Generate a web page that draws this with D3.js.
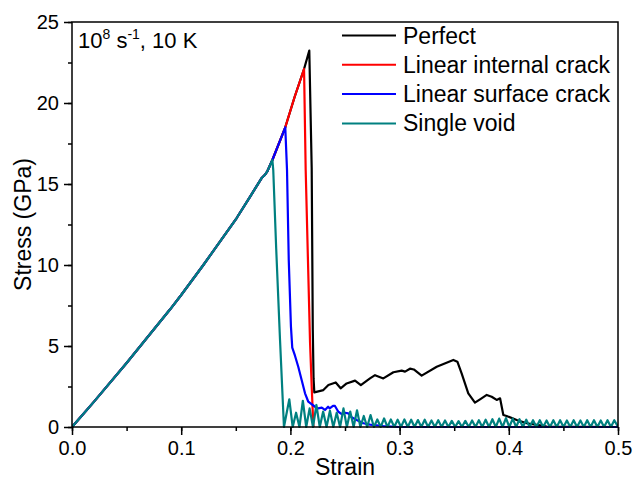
<!DOCTYPE html>
<html>
<head>
<meta charset="utf-8">
<script src="https://cdn.jsdelivr.net/npm/d3@7"></script>
<style>
  body { margin: 0; background: #fff; }
  svg { font-family: "Liberation Sans", Arial, sans-serif; }
</style>
</head>
<body>
<div id="chart1"></div>
<script>
// data: [strain, stress in GPa]
var elastic = [
    [0, 0], [0.02, 1.55], [0.05, 3.95], [0.0897, 7.25], [0.1, 8.15], [0.1203, 10.0],
    [0.1508, 12.9], [0.163, 14.2], [0.1735, 15.35], [0.1765, 15.55], [0.179, 15.8], [0.1835, 16.48]
];
var perfectTail = [
    [0.1953, 18.5], [0.204, 20.4], [0.2125, 22.1], [0.2173, 23.23], [0.2195, 16.0], [0.2205, 6.0],
    [0.2212, 3.0], [0.2219, 2.14], [0.2302, 2.28], [0.2348, 2.59], [0.2415, 2.75], [0.246, 2.39],
    [0.2515, 2.69], [0.2592, 2.86], [0.2645, 2.59], [0.2729, 3.0], [0.2775, 3.2], [0.2851, 3.0],
    [0.2943, 3.38], [0.3019, 3.48], [0.305, 3.42], [0.3095, 3.6], [0.313, 3.55], [0.3202, 3.17],
    [0.334, 3.72], [0.3492, 4.14], [0.3529, 4.03], [0.3568, 3.31], [0.3629, 2.08], [0.369, 1.5],
    [0.374, 1.72], [0.3798, 1.98], [0.3843, 1.87], [0.3889, 1.67], [0.392, 1.77], [0.395, 0.74],
    [0.398, 0.68], [0.4072, 0.43], [0.4164, 0.23], [0.4286, 0.1], [0.4347, 0.02], [0.5, 0]
];
var internalTail = [
    [0.1953, 18.5], [0.204, 20.4], [0.2125, 22.1], [0.214, 15.86], [0.216, 10.5], [0.218, 5.2],
    [0.2195, 2.5], [0.221, 0.1], [0.2215, 0]
];
var surfaceTail = [
    [0.1953, 18.5], [0.1969, 15.86], [0.1985, 10.3], [0.2005, 6.2], [0.2017, 4.9], [0.2042, 4.4],
    [0.2072, 3.72], [0.2103, 2.9], [0.2134, 2.08], [0.2164, 1.56], [0.2225, 1.25], [0.2255, 1.15],
    [0.2287, 1.2], [0.2317, 1.05], [0.2345, 1.25], [0.236, 1.15], [0.239, 1.3], [0.2408, 1.3],
    [0.2439, 0.94], [0.247, 0.8], [0.25, 0.88], [0.253, 0.84], [0.256, 0.6], [0.2607, 0.43],
    [0.2668, 0.23], [0.273, 0.15], [0.285, 0.06], [0.3, 0], [0.5, 0]
];
var voidTail = [
    [0.1843, 15.86], [0.187, 11], [0.1905, 5.37], [0.1941, 0],
    [0.199, 1.71], [0.2021, 0], [0.2052, 0.88], [0.2083, 0], [0.2114, 1.62], [0.2145, 0],
    [0.2176, 1.15], [0.2207, 0], [0.2238, 1.36], [0.2269, 0], [0.23, 0.95], [0.2331, 0],
    [0.2362, 1.0], [0.2393, 0], [0.2424, 0.88], [0.2455, 0], [0.2486, 1.15], [0.2517, 0],
    [0.2548, 0.95], [0.2579, 0], [0.261, 1.03], [0.2641, 0], [0.2672, 0.68], [0.2703, 0],
    [0.2734, 0.74], [0.2765, 0], [0.2796, 0.47], [0.2827, 0], [0.2858, 0.53], [0.2889, 0],
    [0.292, 0.47], [0.2951, 0], [0.2982, 0.45], [0.3013, 0], [0.3044, 0.47], [0.3075, 0],
    [0.3106, 0.45], [0.3137, 0], [0.3168, 0.43], [0.3199, 0], [0.323, 0.45], [0.3261, 0],
    [0.3292, 0.4], [0.3323, 0], [0.3354, 0.42], [0.3385, 0], [0.3416, 0.4], [0.3447, 0],
    [0.3478, 0.38], [0.3509, 0], [0.354, 0.36], [0.3571, 0], [0.3602, 0.38], [0.3633, 0],
    [0.3664, 0.4], [0.3695, 0], [0.3726, 0.42], [0.3757, 0], [0.3788, 0.45], [0.3819, 0],
    [0.385, 0.48], [0.3881, 0], [0.3912, 0.52], [0.3943, 0], [0.3974, 0.55], [0.4005, 0],
    [0.4036, 0.52], [0.4067, 0], [0.4098, 0.48], [0.4129, 0], [0.416, 0.45], [0.4191, 0],
    [0.4222, 0.42], [0.4253, 0], [0.4284, 0.42], [0.4315, 0], [0.4346, 0.4], [0.4377, 0],
    [0.4408, 0.42], [0.4439, 0], [0.447, 0.42], [0.4501, 0], [0.4532, 0.4], [0.4563, 0],
    [0.4594, 0.42], [0.4625, 0], [0.4656, 0.4], [0.4687, 0], [0.4718, 0.42], [0.4749, 0],
    [0.478, 0.42], [0.4811, 0], [0.4842, 0.4], [0.4873, 0], [0.4904, 0.42], [0.4935, 0],
    [0.4966, 0.42], [0.4997, 0.05]
];
var seriesNames = ["Perfect", "Linear internal crack", "Linear surface crack", "Single void"];
var seriesColors = ["#000000", "#ff0000", "#0000ff", "#008080"];
var xTicks = [0, 0.1, 0.2, 0.3, 0.4, 0.5];
var yTicks = [0, 5, 10, 15, 20, 25];

var series = [
    {name: seriesNames[0], color: seriesColors[0], values: elastic.concat(perfectTail)},
    {name: seriesNames[1], color: seriesColors[1], values: elastic.concat(internalTail)},
    {name: seriesNames[2], color: seriesColors[2], values: elastic.concat(surfaceTail)},
    {name: seriesNames[3], color: seriesColors[3], values: elastic.concat(voidTail)}
];

var W = 634, H = 483;
var margin = {top: 22, right: 16, bottom: 56, left: 72};
var width = W - margin.left - margin.right,
    height = H - margin.top - margin.bottom;

var svg = d3.select("#chart1").append("svg").attr("width", W).attr("height", H);
var g = svg.append("g").attr("transform", "translate(" + margin.left + "," + margin.top + ")");

//---- scales
var x = d3.scaleLinear().domain([0, 0.5]).range([0, width]);
var y = d3.scaleLinear().domain([0, 25]).range([height, 0]);

g.append("clipPath").attr("id", "clip")
    .append("rect").attr("width", width).attr("height", height + 1);

//---- curves (black first, teal on top)
var line = d3.line().x(function(d) { return x(d[0]); }).y(function(d) { return y(d[1]); });
g.append("g").attr("clip-path", "url(#clip)")
    .selectAll("path").data(series).enter().append("path")
    .attr("d", function(d) { return line(d.values); })
    .style("fill", "none")
    .style("stroke", function(d) { return d.color; })
    .style("stroke-width", 2.2)
    .style("stroke-linejoin", "round");

//---- axes: major + minor ticks, outward
var xMinor = d3.range(0, 0.5001, 0.05);
var yMinor = d3.range(0, 25.001, 2.5);
g.append("g").attr("transform", "translate(0," + height + ")")
    .call(d3.axisBottom(x).tickValues(xMinor).tickSize(4).tickFormat(""))
    .call(function(a) { a.select(".domain").remove(); });
g.append("g")
    .call(d3.axisLeft(y).tickValues(yMinor).tickSize(4).tickFormat(""))
    .call(function(a) { a.select(".domain").remove(); });

var xAxis = g.append("g").attr("transform", "translate(0," + height + ")")
    .call(d3.axisBottom(x).tickValues(xTicks).tickSize(8).tickPadding(6).tickFormat(d3.format(".1f")));
var yAxis = g.append("g")
    .call(d3.axisLeft(y).tickValues(yTicks).tickSize(8).tickPadding(5).tickFormat(d3.format("d")));
[xAxis, yAxis].forEach(function(a) {
    a.select(".domain").remove();
    a.selectAll("text").style("font-size", "20px").style("fill", "#000")
        .style("font-family", "'Liberation Sans', Arial, sans-serif");
});
g.selectAll(".tick line").style("stroke", "#000").style("stroke-width", 1.5);

// frame
g.append("rect").attr("width", width).attr("height", height)
    .style("fill", "none").style("stroke", "#000").style("stroke-width", 1.5);

//---- titles
g.append("text").attr("x", width / 2).attr("y", height + 48)
    .attr("text-anchor", "middle").style("font-size", "23px").text("Strain");
g.append("text").attr("transform", "rotate(-90)")
    .attr("x", -height / 2).attr("y", -41)
    .attr("text-anchor", "middle").style("font-size", "23px").text("Stress (GPa)");

// condition label
var note = g.append("text").attr("x", 6).attr("y", 26).style("font-size", "22px");
note.append("tspan").text("10");
note.append("tspan").attr("dy", -9).style("font-size", "14px").text("8");
note.append("tspan").attr("dy", 9).text(" s");
note.append("tspan").attr("dy", -9).style("font-size", "14px").text("-1");
note.append("tspan").attr("dy", 9).text(", 10 K");

//---- legend
var legend = g.append("g").attr("transform", "translate(270,13.5)");
var rows = legend.selectAll("g").data(series).enter().append("g")
    .attr("transform", function(d, i) { return "translate(0," + (i * 29.3) + ")"; });
rows.append("line").attr("x1", 0).attr("x2", 54)
    .style("stroke", function(d) { return d.color; }).style("stroke-width", 2);
rows.append("text").attr("x", 61).attr("y", 8)
    .style("font-size", "23px").text(function(d) { return d.name; });
</script>
</body>
</html>
